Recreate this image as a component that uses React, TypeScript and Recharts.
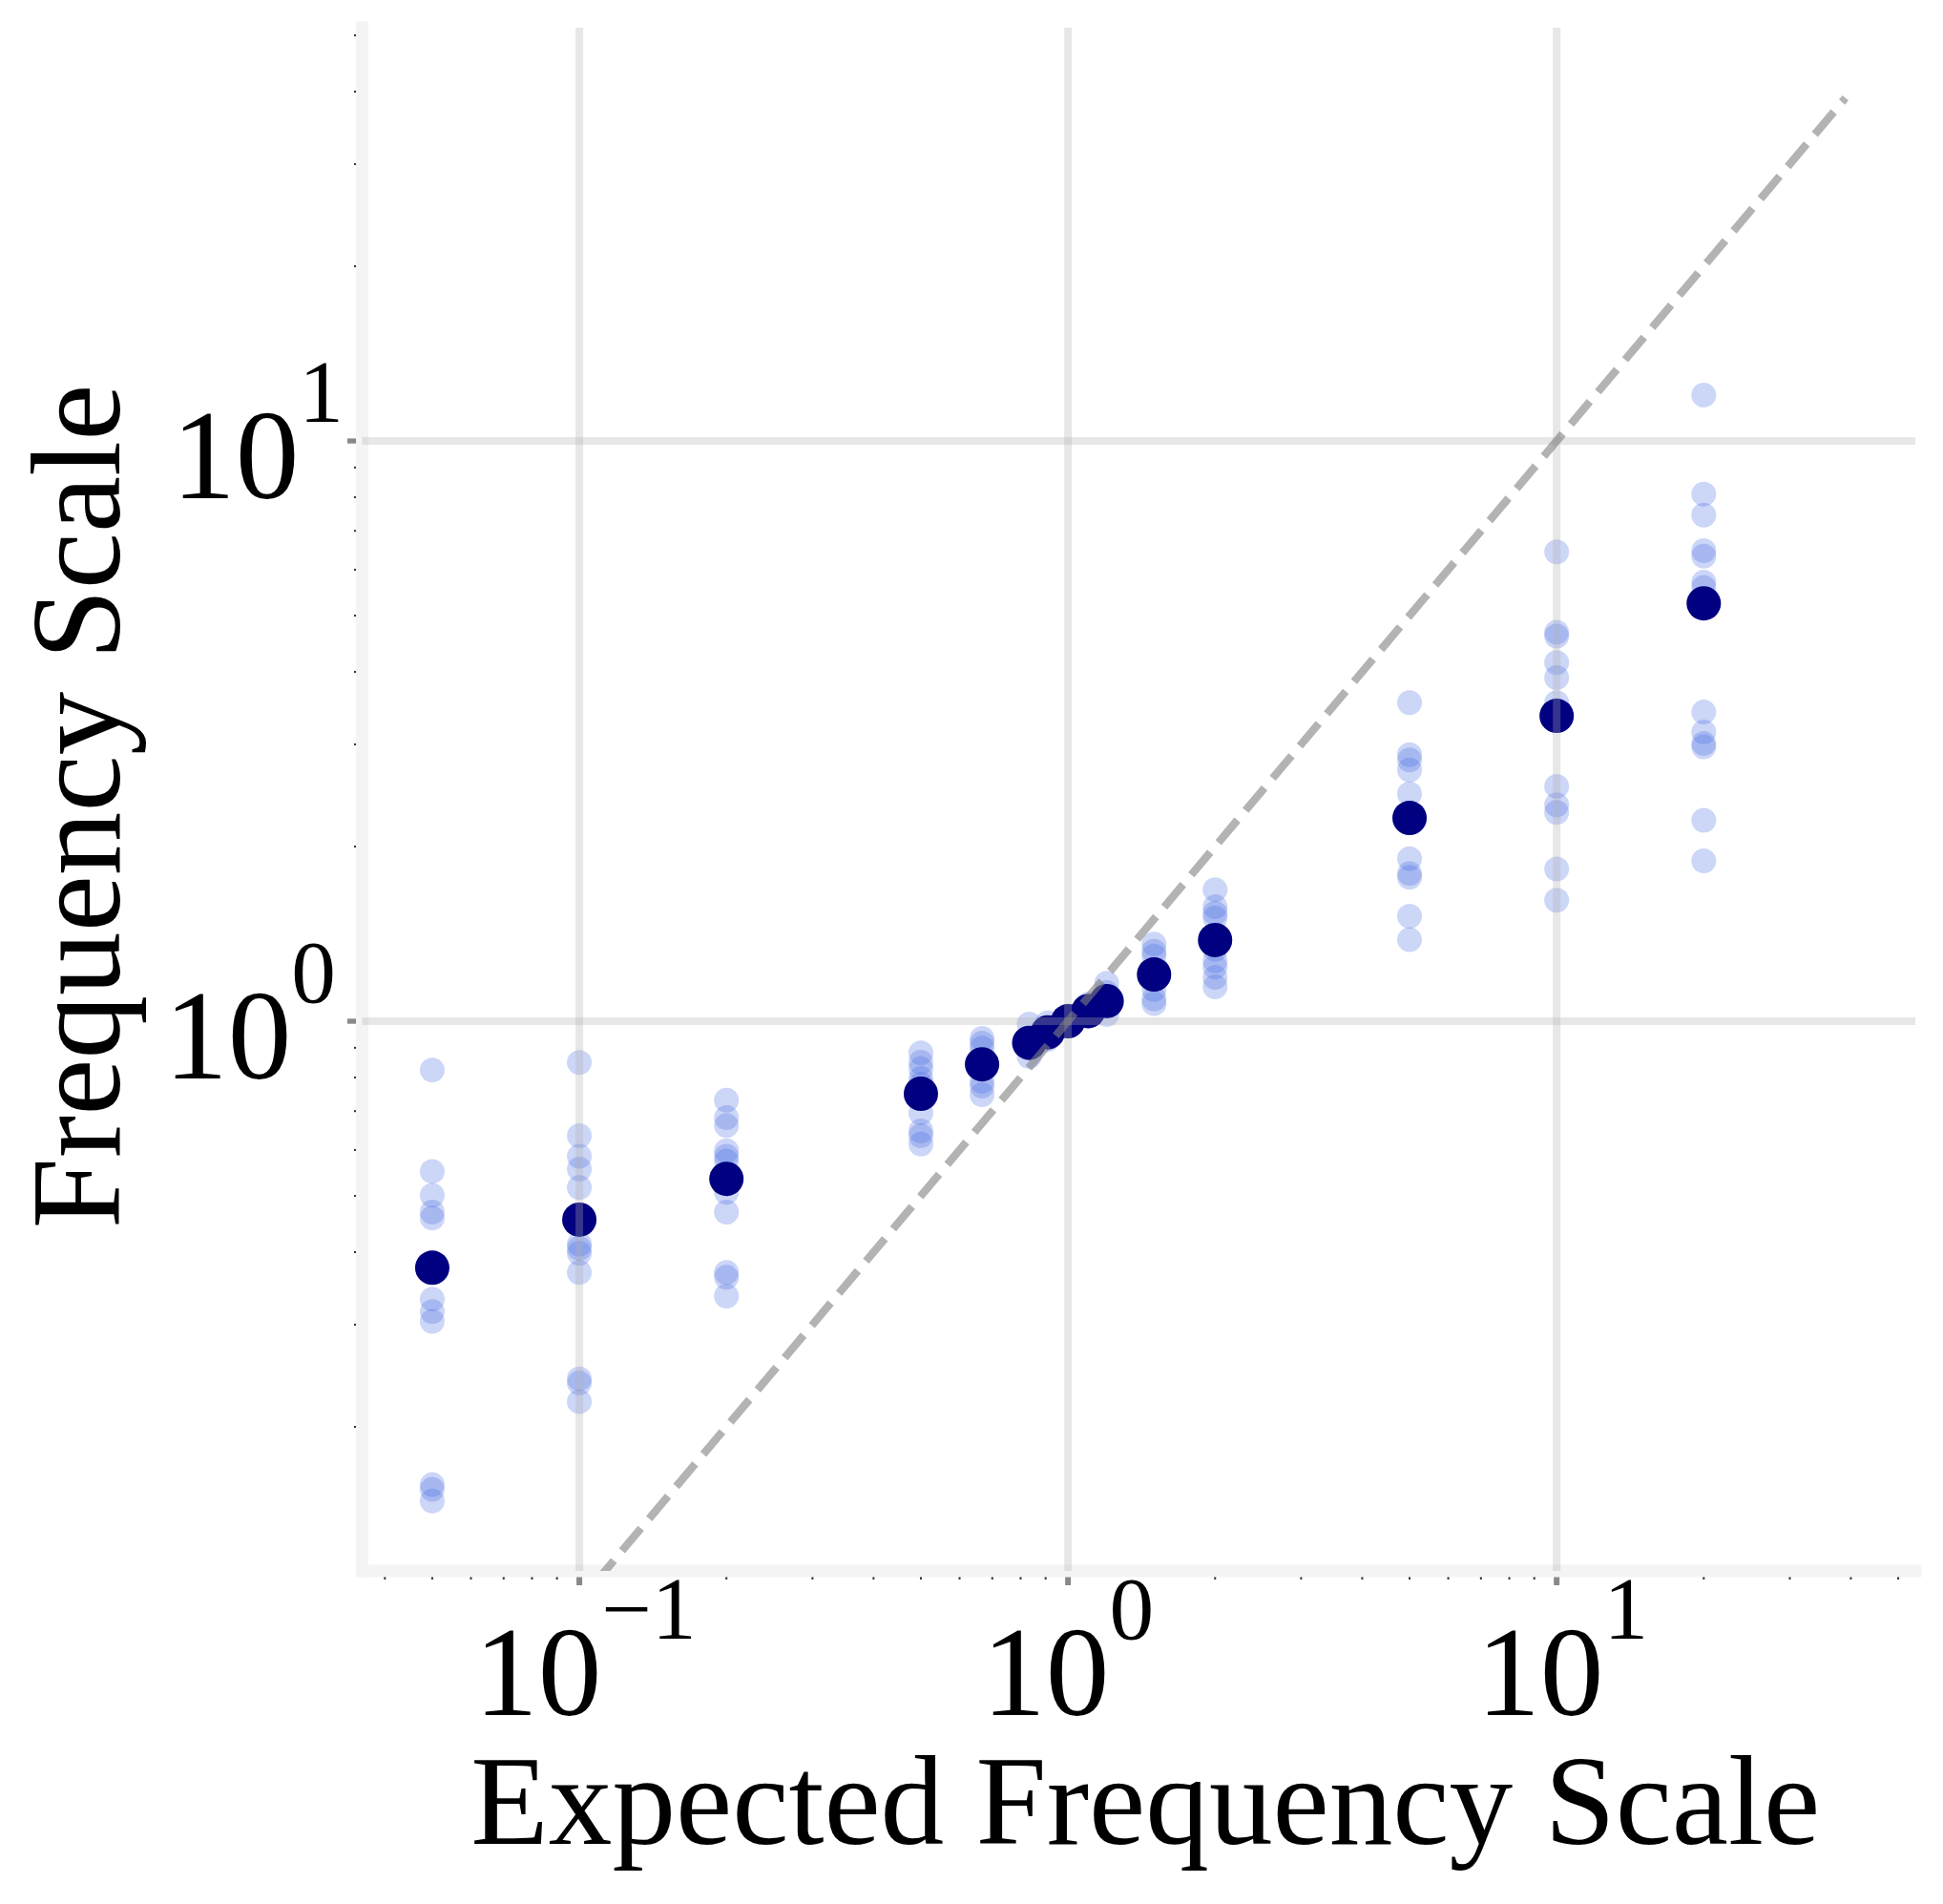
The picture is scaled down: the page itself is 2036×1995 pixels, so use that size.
import { ScatterChart, Scatter, XAxis, YAxis, ReferenceLine, Label } from 'recharts';

// expected frequency scale for each condition
const expected = [0.05, 0.1, 0.2, 0.5, 0.667, 0.833, 0.909, 1, 1.1, 1.2, 1.5, 2, 5, 10, 20];

// mean measured frequency scale per condition
const meanScale = [0.376, 0.455, 0.535, 0.75, 0.843, 0.918, 0.957, 1.0, 1.041, 1.083, 1.204, 1.38, 2.24, 3.36, 5.25];

// individual runs per condition (same order as `expected`)
const runScale = [
  [0.824, 0.551, 0.501, 0.469, 0.458, 0.332, 0.316, 0.304, 0.159, 0.156, 0.149],
  [0.849, 0.635, 0.585, 0.556, 0.517, 0.413, 0.406, 0.398, 0.369, 0.242, 0.238, 0.221],
  [0.731, 0.682, 0.661, 0.598, 0.585, 0.574, 0.507, 0.469, 0.369, 0.362, 0.336],
  [0.882, 0.85, 0.828, 0.797, 0.779, 0.695, 0.647, 0.635, 0.614],
  [0.934, 0.917, 0.899, 0.788, 0.773, 0.747],
  [0.989, 0.869, 0.905, 0.925],
  [0.994, 0.945, 0.93],
  [1.02, 0.985],
  [1.07, 1.02],
  [1.163, 1.027, 1.12, 1.06],
  [1.358, 1.32, 1.295, 1.134, 1.092, 1.072, 1.21, 1.18],
  [1.685, 1.575, 1.536, 1.507, 1.271, 1.24, 1.19, 1.146, 1.33],
  [3.54, 2.88, 2.82, 2.71, 2.466, 1.906, 1.797, 1.77, 1.517, 1.382, 2.2],
  [6.44, 4.68, 4.61, 4.15, 3.91, 3.54, 2.54, 2.36, 2.29, 1.83, 1.616],
  [12.0, 8.1, 7.45, 6.47, 6.33, 5.71, 5.59, 3.41, 3.15, 3.01, 2.97, 2.22, 1.89],
];

// y = x reference, drawn from the first end to the second
const diagonal = [0.05, 39];

const xTicks = [
  0.04, 0.05, 0.06, 0.07, 0.08, 0.09, 0.1, 0.2, 0.3, 0.4, 0.5, 0.6, 0.7, 0.8, 0.9,
  1, 2, 3, 4, 5, 6, 7, 8, 9, 10, 20, 30, 40, 50,
];
const yTicks = [
  0.2, 0.3, 0.4, 0.5, 0.6, 0.7, 0.8, 0.9, 1, 2, 3, 4, 5, 6, 7, 8, 9, 10, 20, 30, 40, 50,
];
const majorX = [0.1, 1, 10];
const majorY = [1, 10];

const xDomain = [0.03594, 54.2];
const yDomain = [0.1129, 51.55];

const W = 2036;
const H = 1995;
const PLOT = { left: 379.5, top: 29, right: 2007, bottom: 1646 };

const FONT = "'Liberation Serif', 'Times New Roman', Times, serif";
const GRID = { stroke: '#b0b0b0', strokeOpacity: 0.3, strokeWidth: 8 };
const SPINE = { stroke: '#f4f4f4', strokeWidth: 13, strokeLinecap: 'square' as const };

const runPoints = expected.flatMap((e, i) => runScale[i].map((v) => ({ x: e, y: v })));
const meanPoints = expected.map((e, i) => ({ x: e, y: meanScale[i] }));

const isMajor = (v: number) => Math.abs(Math.log10(v) - Math.round(Math.log10(v))) < 1e-6;
const expText = (v: number) => {
  const e = Math.round(Math.log10(v));
  return e < 0 ? `\u2212${-e}` : `${e}`;
};

function Power({ x, y, anchor, exp }: { x: number; y: number; anchor: 'start' | 'end'; exp: string }) {
  return (
    <text x={x} y={y} textAnchor={anchor} fontFamily={FONT} fontSize={133.3} fill="#000">
      <tspan>10</tspan>
      <tspan dy={-80} fontSize={93.3}>
        {exp}
      </tspan>
    </text>
  );
}

// label starts, measured from the tick
const xLabelStart: Record<string, number> = { '\u22121': -110, '0': -90, '1': -84 };
// label right ends, measured from the spine
const yLabelEnd: Record<string, number> = { '0': -27.5, '1': -19.5 };

function XTick(props: any) {
  const { x, y, payload } = props;
  const v = payload.value;
  if (!isMajor(v)) return <rect x={x - 1} y={y + 6.5} width={2} height={2.5} fill="#333" />;
  const exp = expText(v);
  return (
    <g>
      <rect x={x - 3} y={y + 6.5} width={6} height={8.5} fill="#888" />
      <Power x={x + (xLabelStart[exp] ?? -90)} y={y + 151} anchor="start" exp={exp} />
    </g>
  );
}

function YTick(props: any) {
  const { x, y, payload } = props;
  const v = payload.value;
  if (!isMajor(v)) return <rect x={x - 8.5} y={y - 1} width={2} height={2} fill="#333" />;
  const exp = expText(v);
  return (
    <g>
      <rect x={x - 15.5} y={y - 2.65} width={9} height={5.3} fill="#888" />
      <Power x={x + (yLabelEnd[exp] ?? -27.5)} y={y + 60} anchor="end" exp={exp} />
    </g>
  );
}

const runDot = (p: any) => <circle cx={p.cx} cy={p.cy} r={13} fill="#4169e1" fillOpacity={0.27} />;
const meanDot = (p: any) => <circle cx={p.cx} cy={p.cy} r={18} fill="#000080" />;

export default function App() {
  const midX = (PLOT.left + PLOT.right) / 2 + 7;
  const midY = (PLOT.top + PLOT.bottom) / 2 + 7.5;
  return (
    <div style={{ position: 'absolute', left: 0, top: 0, width: W, height: H, background: '#fff' }}>
      <ScatterChart
        width={W}
        height={H}
        margin={{ top: PLOT.top, right: W - PLOT.right, bottom: 0, left: 0 }}
      >
        <XAxis
          dataKey="x"
          type="number"
          scale="log"
          domain={xDomain}
          allowDataOverflow
          ticks={xTicks}
          interval={0}
          tick={XTick}
          tickLine={false}
          tickSize={0}
          tickMargin={0}
          axisLine={SPINE}
          height={H - PLOT.bottom}
        >
          <Label
            content={() => (
              <text x={midX} y={1932} textAnchor="middle" fontFamily={FONT} fontSize={133.3} fill="#000">
                Expected Frequency Scale
              </text>
            )}
          />
        </XAxis>
        <YAxis
          dataKey="y"
          type="number"
          scale="log"
          domain={yDomain}
          allowDataOverflow
          ticks={yTicks}
          interval={0}
          tick={YTick}
          tickLine={false}
          tickSize={0}
          tickMargin={0}
          axisLine={SPINE}
          width={PLOT.left}
        >
          <Label
            content={() => (
              <text
                x={125}
                y={midY}
                transform={`rotate(-90 125 ${midY})`}
                textAnchor="middle"
                fontFamily={FONT}
                fontSize={133.3}
                fill="#000"
              >
                Frequency Scale
              </text>
            )}
          />
        </YAxis>
        <Scatter data={runPoints} shape={runDot} isAnimationActive={false} legendType="none" />
        <Scatter data={meanPoints} shape={meanDot} isAnimationActive={false} legendType="none" />
        {majorX.map((v) => (
          <ReferenceLine key={`gx${v}`} x={v} {...GRID} zIndex={700} />
        ))}
        {majorY.map((v) => (
          <ReferenceLine key={`gy${v}`} y={v} {...GRID} zIndex={700} />
        ))}
        <ReferenceLine
          segment={[
            { x: diagonal[0], y: diagonal[0] },
            { x: diagonal[1], y: diagonal[1] },
          ]}
          stroke="#808080"
          strokeOpacity={0.6}
          strokeWidth={8.3}
          strokeDasharray="30.8 13.3"
          ifOverflow="hidden"
          zIndex={710}
        />
      </ScatterChart>
    </div>
  );
}
